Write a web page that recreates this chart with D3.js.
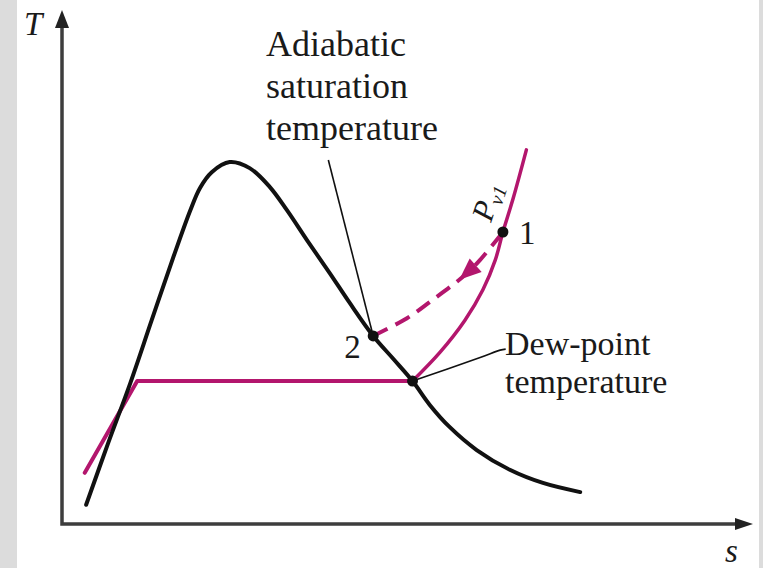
<!doctype html>
<html>
<head>
    <meta charset="utf-8">
    <title>T-s diagram: adiabatic saturation and dew-point temperature</title>
    <script src="https://cdnjs.cloudflare.com/ajax/libs/d3/7.8.5/d3.min.js"></script>
    <style>
        html, body { margin: 0; padding: 0; background: #fff; }
        svg { display: block; }
        text { font-family: "Liberation Serif", "DejaVu Serif", serif; fill: #1a1a1a; }
        .it { font-style: italic; }
    </style>
</head>
<body>

<svg width="763" height="568"></svg>

<script>
    // saturation dome (entropy s, temperature T, both on a 0-100 scale)
    const domeS = [3.5, 6.7, 9.9, 13.0, 16.1, 18.6, 20.0, 21.7, 24.3, 27.2, 30.1, 32.6, 35.5, 38.8, 41.7, 45.1, 48.0, 50.8, 53.3, 56.2, 60.1, 64.9, 69.7, 75.1];
    const domeT = [3.4, 15.6, 27.4, 39.8, 52.1, 61.5, 65.9, 69.0, 71.0, 69.8, 66.1, 61.5, 55.6, 49.1, 43.2, 36.7, 32.2, 27.8, 23.1, 18.7, 14.2, 10.3, 7.7, 5.9];

    // constant pressure line P_v1: liquid part + plateau
    const lowS = [3.3, 10.9, 50.8];
    const lowT = [9.7, 27.8, 27.8];
    // superheated part up through state 1
    const pvS = [50.8, 54.8, 58.4, 61.0, 62.8, 63.9, 65.4, 67.3];
    const pvT = [27.8, 33.5, 39.8, 45.8, 51.7, 57.2, 63.9, 73.4];

    // adiabatic saturation process 1 -> 2 (dashed)
    const dashS = [45.1, 50.0, 53.3, 58.4, 60.6, 63.9];
    const dashT = [36.7, 40.2, 43.4, 48.7, 51.7, 57.2];

    // states
    const stateNames = ["1", "2", "dew"];
    const stateS = [63.9, 45.1, 50.8];
    const stateT = [57.2, 36.7, 27.8];

    // leader lines for the labels
    const adiaLeadS = [38.6, 45.1];
    const adiaLeadT = [71.4, 36.7];
    const dewLeadS = [50.8, 60.7, 63.5, 64.3];
    const dewLeadT = [27.8, 32.5, 33.9, 34.1];

    const arrowAt = [57.6, 47.8];

    const adiaLabel = ["Adiabatic", "saturation", "temperature"];
    const dewLabel = ["Dew-point", "temperature"];

    const magenta = "#b3166d";

    let svg = d3.select("svg");

    // grey frame strips like the scanned page
    svg.append("rect").attr("x", 0).attr("y", 0).attr("width", 17).attr("height", 568).attr("fill", "#dcdcdc");
    svg.append("rect").attr("x", 759).attr("y", 0).attr("width", 4).attr("height", 568).attr("fill", "#dcdcdc");

    let x = d3.scaleLinear().domain([0, 100]).range([62, 752]);
    let y = d3.scaleLinear().domain([0, 100]).range([522, 15]);

    function pts(sArr, tArr) {
        return sArr.map(function(s, i) { return [s, tArr[i]]; });
    }

    let smooth = d3.line()
        .x(function(d) { return x(d[0]); })
        .y(function(d) { return y(d[1]); })
        .curve(d3.curveCatmullRom.alpha(0.5));

    let straight = d3.line()
        .x(function(d) { return x(d[0]); })
        .y(function(d) { return y(d[1]); });

    // axes with arrow heads
    let axisCol = "#3d3d3d";
    svg.append("path")
        .attr("d", "M" + x(0) + "," + (y(100) + 10) + " L" + x(0) + "," + (y(0) + 2) + " L" + (x(100) - 12) + "," + (y(0) + 2))
        .attr("fill", "none")
        .attr("stroke", axisCol)
        .attr("stroke-width", 3.5);
    svg.append("path")
        .attr("d", "M" + x(0) + "," + (y(100) - 5) + " l-7,18 l14,0 z")
        .attr("fill", "#222");
    svg.append("path")
        .attr("d", "M" + (x(100) + 1) + "," + (y(0) + 2) + " l-18,-6 l0,12 z")
        .attr("fill", "#222");

    svg.append("text").attr("class", "it").attr("x", 24).attr("y", 35).attr("font-size", 33).text("T");
    svg.append("text").attr("class", "it").attr("x", 725).attr("y", 562).attr("font-size", 33).text("s");

    // leader lines
    svg.append("path").attr("d", straight(pts(adiaLeadS, adiaLeadT)))
        .attr("fill", "none").attr("stroke", "#111").attr("stroke-width", 1.6);
    svg.append("path").attr("d", smooth(pts(dewLeadS, dewLeadT)))
        .attr("fill", "none").attr("stroke", "#111").attr("stroke-width", 1.6);

    // magenta constant-pressure line
    svg.append("path").attr("d", straight(pts(lowS, lowT)))
        .attr("fill", "none").attr("stroke", magenta).attr("stroke-width", 4)
        .attr("stroke-linejoin", "round").attr("stroke-linecap", "round");
    svg.append("path").attr("d", smooth(pts(pvS, pvT)))
        .attr("fill", "none").attr("stroke", magenta).attr("stroke-width", 3.5)
        .attr("stroke-linecap", "round");

    // dome
    svg.append("path").attr("d", smooth(pts(domeS, domeT)))
        .attr("fill", "none").attr("stroke", "#111").attr("stroke-width", 4)
        .attr("stroke-linecap", "round");

    // dashed process line
    let dashPath = svg.append("path").attr("d", smooth(pts(dashS, dashT)))
        .attr("fill", "none").attr("stroke", magenta).attr("stroke-width", 4)
        .attr("stroke-dasharray", "16,9");

    // arrow head on dashed line, pointing toward state 2
    let node = dashPath.node();
    let total = node.getTotalLength();
    let best = 0, bestD = Infinity;
    for (let l = 0; l <= total; l += 1) {
        let p = node.getPointAtLength(l);
        let dd = Math.hypot(p.x - x(arrowAt[0]), p.y - y(arrowAt[1]));
        if (dd < bestD) { bestD = dd; best = l; }
    }
    let tip = node.getPointAtLength(best);
    let back = node.getPointAtLength(Math.min(total, best + 18));
    let ang = Math.atan2(tip.y - back.y, tip.x - back.x);
    let len = 22, hw = 9;
    let bx = tip.x - len * Math.cos(ang), by = tip.y - len * Math.sin(ang);
    svg.append("path")
        .attr("d", "M" + tip.x + "," + tip.y +
            " L" + (bx + hw * Math.sin(ang)) + "," + (by - hw * Math.cos(ang)) +
            " L" + (bx - hw * Math.sin(ang)) + "," + (by + hw * Math.cos(ang)) + " Z")
        .attr("fill", magenta);

    // state points
    svg.selectAll(".state")
        .data(stateNames)
        .enter()
        .append("circle")
        .attr("class", "state")
        .attr("cx", function(d, i) { return x(stateS[i]); })
        .attr("cy", function(d, i) { return y(stateT[i]); })
        .attr("r", 5.5)
        .attr("fill", "#111");

    svg.append("text").attr("x", x(stateS[0]) + 16).attr("y", y(stateT[0]) + 12).attr("font-size", 33).text("1");
    svg.append("text").attr("x", x(stateS[1]) - 29).attr("y", y(stateT[1]) + 22).attr("font-size", 33).text("2");

    // P_v1 label rotated along the curve
    let pv = svg.append("text")
        .attr("class", "it")
        .attr("transform", "translate(491,223) rotate(-72)")
        .attr("font-size", 31);
    pv.append("tspan").text("P");
    pv.append("tspan").attr("dy", 5).attr("font-size", 20).text("v1");

    // multi-line labels
    function multiLine(lines, x0, y0, step, size) {
        svg.append("g").selectAll("text")
            .data(lines)
            .enter()
            .append("text")
            .attr("x", x0)
            .attr("y", function(d, i) { return y0 + i * step; })
            .attr("font-size", size)
            .text(function(d) { return d; });
    }

    multiLine(adiaLabel, 266, 56, 42, 36);
    multiLine(dewLabel, 505, 355, 38, 34);
</script>

</body>
</html>
